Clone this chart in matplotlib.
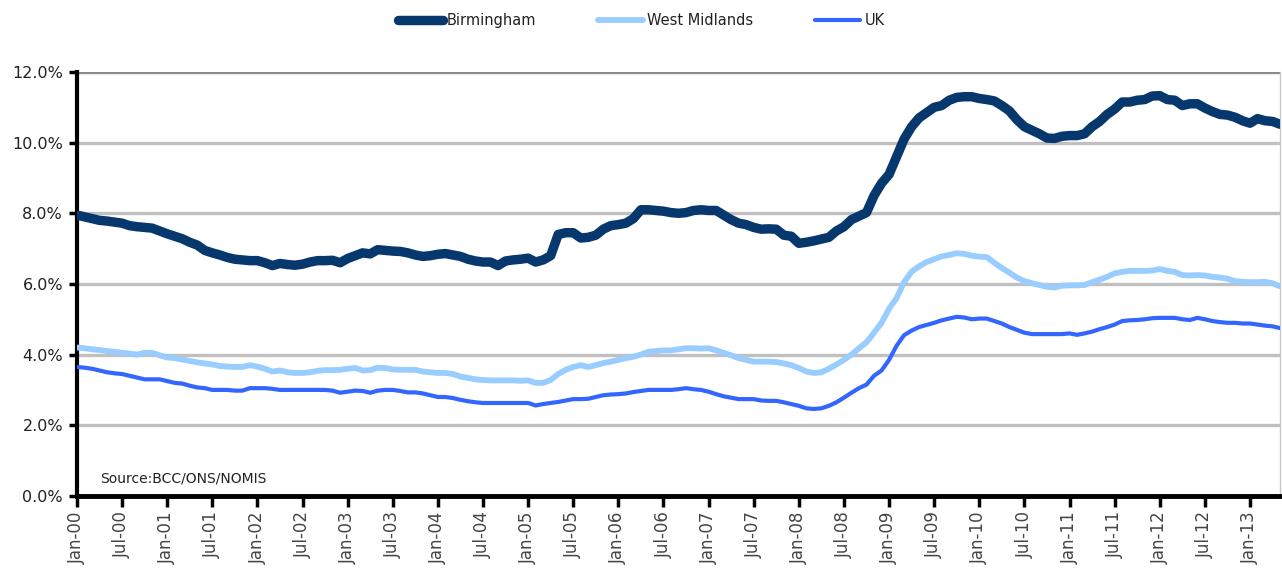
import matplotlib.pyplot as plt

# Tasas mensuales (%) de enero 2000 a mayo 2013
birmingham = [
    7.95, 7.90, 7.85, 7.80, 7.78, 7.75, 7.72, 7.65, 7.62, 7.60, 7.58, 7.50,
    7.42, 7.35, 7.28, 7.18, 7.10, 6.95, 6.88, 6.82, 6.75, 6.70, 6.68, 6.66,
    6.66, 6.60, 6.52, 6.58, 6.55, 6.53, 6.56, 6.62, 6.66, 6.66, 6.67, 6.60,
    6.72, 6.80, 6.88, 6.85, 6.97, 6.95, 6.93, 6.92, 6.88, 6.82, 6.78, 6.80,
    6.84, 6.86, 6.82, 6.78, 6.70, 6.65, 6.62, 6.62, 6.52, 6.65, 6.68, 6.70,
    6.73, 6.62, 6.68, 6.80, 7.40, 7.45, 7.45, 7.30, 7.32, 7.38, 7.55, 7.65,
    7.68, 7.72, 7.85, 8.10, 8.10, 8.08, 8.06, 8.02, 8.00, 8.02, 8.08, 8.10,
    8.08, 8.08, 7.95, 7.82, 7.72, 7.68, 7.60, 7.55, 7.56, 7.55, 7.38, 7.35,
    7.15, 7.18, 7.22, 7.27, 7.32, 7.50, 7.62, 7.82, 7.92, 8.02, 8.50, 8.85,
    9.10, 9.60, 10.10, 10.45, 10.70, 10.85, 11.00, 11.05, 11.20, 11.28, 11.30, 11.30,
    11.25, 11.22, 11.18, 11.05, 10.90, 10.65, 10.45, 10.35, 10.25, 10.13, 10.12, 10.18,
    10.20, 10.20, 10.25, 10.45, 10.60, 10.80, 10.95, 11.15, 11.15, 11.20, 11.22, 11.32,
    11.33, 11.22, 11.20, 11.05, 11.10, 11.10, 10.98, 10.88, 10.80, 10.78, 10.72, 10.62,
    10.55, 10.68, 10.62, 10.60, 10.52,
]
west_midlands = [
    4.20, 4.18, 4.15, 4.13, 4.10, 4.08, 4.05, 4.03, 4.00, 4.05, 4.05, 3.98,
    3.92, 3.90, 3.86, 3.82, 3.78, 3.75, 3.72, 3.68, 3.66, 3.65, 3.65, 3.70,
    3.66, 3.60, 3.52, 3.55, 3.50, 3.48, 3.48, 3.50, 3.54, 3.56, 3.56, 3.57,
    3.60, 3.62, 3.55, 3.56, 3.63, 3.62, 3.58, 3.57, 3.57, 3.57, 3.52, 3.50,
    3.48, 3.48, 3.45, 3.38, 3.34, 3.30, 3.28, 3.27, 3.27, 3.27, 3.27, 3.26,
    3.27, 3.20, 3.20, 3.28, 3.45, 3.57, 3.65, 3.70, 3.65, 3.70, 3.76, 3.80,
    3.85, 3.90, 3.94, 4.00, 4.08, 4.10, 4.12, 4.12, 4.15, 4.18, 4.18, 4.17,
    4.18, 4.12, 4.05, 3.98, 3.90, 3.85, 3.80, 3.80, 3.80, 3.79, 3.75, 3.70,
    3.62, 3.52, 3.48, 3.50, 3.60, 3.72, 3.85, 4.00, 4.18, 4.35, 4.62, 4.90,
    5.30, 5.60, 6.05, 6.35, 6.50, 6.62, 6.70, 6.78, 6.82, 6.87, 6.85, 6.80,
    6.77, 6.76, 6.60, 6.45, 6.32, 6.18, 6.08, 6.02, 5.97, 5.92, 5.90, 5.95,
    5.96, 5.96, 5.97, 6.05, 6.12, 6.20, 6.30, 6.34, 6.37, 6.37, 6.37, 6.38,
    6.42, 6.37, 6.34, 6.25, 6.24, 6.25, 6.24, 6.20, 6.18, 6.15, 6.08, 6.06,
    6.05, 6.05, 6.06, 6.02, 5.93,
]
uk = [
    3.65, 3.63, 3.60, 3.55, 3.50, 3.47, 3.45, 3.40, 3.35, 3.30, 3.30, 3.30,
    3.25, 3.20, 3.18, 3.12, 3.07, 3.05, 3.00, 3.00, 3.00, 2.98, 2.98, 3.05,
    3.05, 3.05, 3.03, 3.00, 3.00, 3.00, 3.00, 3.00, 3.00, 3.00, 2.98, 2.92,
    2.95, 2.98, 2.97, 2.92, 2.98, 3.00, 3.00, 2.97, 2.93, 2.93, 2.90, 2.85,
    2.80, 2.80, 2.77, 2.72, 2.68, 2.65, 2.63, 2.63, 2.63, 2.63, 2.63, 2.63,
    2.63, 2.56, 2.60, 2.63, 2.66, 2.70, 2.74, 2.74, 2.75, 2.80, 2.85, 2.87,
    2.88, 2.90, 2.94, 2.97, 3.00, 3.00, 3.00, 3.00, 3.02, 3.05, 3.02, 3.00,
    2.95, 2.88, 2.82, 2.78, 2.74, 2.74, 2.74, 2.70, 2.69, 2.69, 2.65, 2.60,
    2.55, 2.48, 2.46, 2.48, 2.55, 2.65, 2.78, 2.92, 3.05, 3.15, 3.40, 3.55,
    3.85, 4.25, 4.55, 4.68, 4.78, 4.84, 4.90, 4.97, 5.02, 5.07, 5.05, 5.00,
    5.02, 5.02, 4.95, 4.88, 4.78, 4.70, 4.62, 4.58, 4.58, 4.58, 4.58, 4.58,
    4.60, 4.56, 4.60, 4.65, 4.72, 4.78, 4.85, 4.95, 4.97, 4.98, 5.00, 5.03,
    5.04, 5.04, 5.04, 5.00, 4.98, 5.04, 5.00, 4.95, 4.92, 4.90, 4.90, 4.88,
    4.88, 4.85, 4.82, 4.80, 4.75,
]

# Etiquetas semestrales del eje X
etiquetas_x = []
for anio in range(0, 14):
    etiquetas_x.append(f"Jan-{anio:02d}")
    if anio < 13:
        etiquetas_x.append(f"Jul-{anio:02d}")

meses = list(range(len(birmingham)))

fig = plt.figure(figsize=(12.82, 5.70), dpi=100)
ax = fig.add_axes([0.060, 0.130, 0.9385, 0.7437])

# Cuadrícula horizontal gris
for v in [2, 4, 6, 8, 10]:
    ax.axhline(v, color='#c0c0c0', linewidth=2.4, zorder=1)
ax.axhline(12, color='#8c8c8c', linewidth=2.4, zorder=1)

l1, = ax.plot(meses, birmingham, color='#06386e', linewidth=6.8,
              solid_capstyle='round', zorder=4, label='Birmingham')
l2, = ax.plot(meses, west_midlands, color='#99ccff', linewidth=4.2,
              solid_capstyle='round', zorder=3, label='West Midlands')
l3, = ax.plot(meses, uk, color='#3366ff', linewidth=3.0,
              solid_capstyle='round', zorder=3, label='UK')

ax.set_xlim(0, len(birmingham) - 1)
ax.set_ylim(0, 12)
ax.set_yticks(range(0, 13, 2))
ax.set_yticklabels([f"{v:.1f}%" for v in range(0, 13, 2)], fontsize=11.5, color='#222222')
ax.set_xticks(range(0, 6 * len(etiquetas_x), 6))
ax.set_xticklabels(etiquetas_x, rotation=90, fontsize=12, color='#444444')

ax.tick_params(axis='y', length=6, width=2.5, direction='out', pad=4)
ax.tick_params(axis='x', length=8, width=2.5, direction='out', pad=3)

ax.spines['left'].set_linewidth(3)
ax.spines['bottom'].set_linewidth(3.5)
ax.spines['top'].set_visible(False)
ax.spines['right'].set_color('#c8c8c8')
ax.spines['right'].set_linewidth(1)

ax.text(0.019, 0.042, 'Source:BCC/ONS/NOMIS', transform=ax.transAxes,
        fontsize=10, color='#222222', va='center', ha='left')

fig.legend(handles=[l1, l2, l3], loc='upper center', bbox_to_anchor=(0.5, 1.0),
           ncol=3, frameon=False, fontsize=10.5, handlelength=3.1,
           columnspacing=4.2, handletextpad=0.3, labelcolor='#222222')

plt.savefig('out.png', dpi=100)
